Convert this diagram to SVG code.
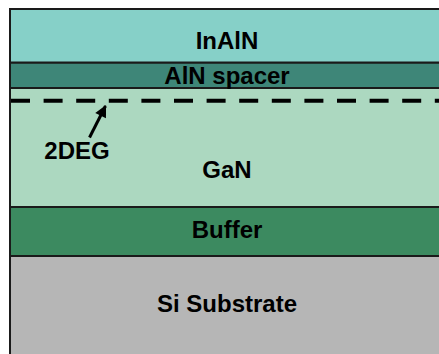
<svg xmlns="http://www.w3.org/2000/svg" width="439" height="354" viewBox="0 0 439 354">
  <style>
    .layer { stroke: #1a1a1a; stroke-width: 2; }
    .label { font-family: "Liberation Sans", Arial, sans-serif; font-weight: bold; font-size: 24px; fill: #000; text-anchor: middle; }
  </style>
  <defs>
    <marker id="head" viewBox="0 0 10 10" refX="9" refY="5" markerWidth="4.5" markerHeight="4" orient="auto" markerUnits="strokeWidth">
      <path d="M0,0 L10,5 L0,10 z" fill="#000"/>
    </marker>
  </defs>
  <rect width="439" height="354" fill="#fff"/>

  <!-- substrate stack, top to bottom -->
  <g id="si-substrate">
    <rect class="layer" x="10" y="256" width="440" height="110" fill="#b6b6b6"/>
    <text class="label" x="227" y="312">Si Substrate</text>
  </g>
  <g id="buffer">
    <rect class="layer" x="10" y="207" width="440" height="49" fill="#3c8a60"/>
    <text class="label" x="227" y="238">Buffer</text>
  </g>
  <g id="gan">
    <rect class="layer" x="10" y="88" width="440" height="119" fill="#acd8c0"/>
    <text class="label" x="227" y="178">GaN</text>
  </g>
  <g id="aln-spacer">
    <rect class="layer" x="10" y="62.5" width="440" height="25.5" fill="#3e8678"/>
    <text class="label" x="227" y="83.5">AlN spacer</text>
  </g>
  <g id="inaln">
    <rect class="layer" x="10" y="9" width="440" height="53.5" fill="#86d0c8"/>
    <text class="label" x="227" y="49">InAlN</text>
  </g>

  <!-- 2DEG channel and its pointer -->
  <g id="connectors">
    <line x1="11" y1="100.7" x2="439" y2="100.7" stroke="#000" stroke-width="4" stroke-dasharray="19 13.6"/>
    <line x1="89.5" y1="137.5" x2="105.5" y2="106" stroke="#000" stroke-width="3" marker-end="url(#head)"/>
  </g>
  <g id="twodeg">
    <text class="label" x="77" y="159">2DEG</text>
  </g>
</svg>
